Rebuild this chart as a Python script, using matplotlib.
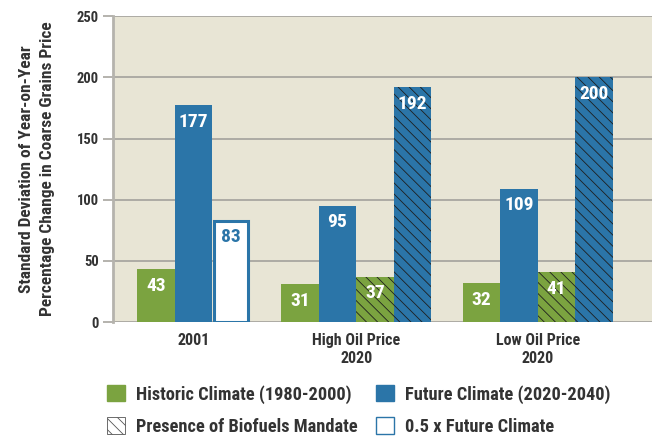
import matplotlib
matplotlib.use('Agg')
import matplotlib.pyplot as plt
from matplotlib import font_manager
from matplotlib.patches import Patch

# data
groups = ['2001', 'High Oil Price\n2020', 'Low Oil Price\n2020']
series_names = ['Historic Climate (1980-2000)', 'Future Climate (2020-2040)',
                'Presence of Biofuels Mandate', '0.5 x Future Climate']
# each bar: group index, kind (picks colour/hatch), value
bar_groups = [0, 0, 0, 1, 1, 1, 1, 2, 2, 2, 2]
bar_kinds = ['hist', 'future', 'half', 'hist', 'future', 'hist_bio', 'future_bio',
             'hist', 'future', 'hist_bio', 'future_bio']
bar_values = [43, 177, 83, 31, 95, 37, 192, 32, 109, 41, 200]
yticks = [0, 50, 100, 150, 200, 250]

GREEN = '#7ba340'
BLUE = '#2b75a8'
BG = '#e8e5d5'
GRID = '#a8a6a0'
TXT = '#333333'
HATCH = '#1e1e1e'

# pick a condensed face if one is around
names = {f.name for f in font_manager.fontManager.ttflist}
cands = ['Roboto Condensed', 'Barlow Condensed', 'Archivo Narrow', 'PT Sans Narrow',
         'Liberation Sans Narrow', 'Open Sans Condensed']
chosen = [c for c in cands if c in names][:1]
plt.rcParams['font.family'] = chosen + ['DejaVu Sans']
plt.rcParams['font.weight'] = 'bold'
plt.rcParams['hatch.linewidth'] = 0.6

fig = plt.figure(figsize=(6.54, 4.37), dpi=100)
ax = fig.add_axes([0.1728, 0.263, 0.824, 0.700])
ax.set_facecolor(BG)

# bar positions: contiguous within a group, gap between groups
gap = 0.83
xs = []
x = 0.0
prev = bar_groups[0]
for g in bar_groups:
    if g != prev:
        x += gap
        prev = g
    xs.append(x)
    x += 1

# label under the middle bar of the first group, under group centre otherwise
group_centers = []
for gi in range(len(groups)):
    pos = [xs[i] for i in range(len(xs)) if bar_groups[i] == gi]
    group_centers.append((min(pos) + max(pos)) / 2 if gi else pos[1])

for xi, kind, v in zip(xs, bar_kinds, bar_values):
    if kind == 'half':
        ax.bar(xi, v, width=0.9, color='white', edgecolor=BLUE, linewidth=2.2, zorder=3)
        col = BLUE
    else:
        fc = GREEN if kind.startswith('hist') else BLUE
        if kind.endswith('bio'):
            ax.bar(xi, v, width=1.0, facecolor=fc, edgecolor=HATCH, linewidth=0,
                   hatch='\\\\\\', zorder=3)
        else:
            ax.bar(xi, v, width=1.0, facecolor=fc, edgecolor=fc, linewidth=0, zorder=3)
        col = 'white'
    ax.annotate(str(v), (xi, v), xytext=(0, -12), textcoords='offset points',
                ha='center', va='center', color=col, fontsize=14, fontweight='bold', zorder=4)

ax.set_xlim(-1.14, 13.2)
ax.set_ylim(0, 250)
ax.set_yticks(yticks)
ax.set_xticks(group_centers)
ax.set_xticklabels(groups, fontsize=11.5, color=TXT)
ax.tick_params(axis='x', length=0, pad=8)
ax.tick_params(axis='y', length=7, width=1.2, color=GRID, labelsize=10.5, labelcolor=TXT, pad=3)
for t in yticks:
    ax.axhline(t, color=GRID, linewidth=1.3, zorder=1)
for s in ['right', 'bottom', 'top']:
    ax.spines[s].set_visible(False)
ax.spines['left'].set_color('#b5b3ad')
ax.spines['left'].set_linewidth(2)
ax.set_ylabel('Standard Deviation of Year-on-Year\nPercentage Change in Coarse Grains Price',
              fontsize=12.5, fontweight='bold', color=TXT, labelpad=16, linespacing=1.45)

handles = [Patch(facecolor=GREEN, edgecolor=GREEN),
           Patch(facecolor=BLUE, edgecolor=BLUE),
           Patch(facecolor='white', edgecolor='#555555', hatch='\\\\\\', linewidth=0.6),
           Patch(facecolor='white', edgecolor=BLUE, linewidth=1)]
order = [0, 2, 1, 3]
fig.legend([handles[i] for i in order], [series_names[i] for i in order], ncol=2,
           loc='lower left', bbox_to_anchor=(0.138, -0.035), frameon=False,
           prop={'size': 13.2, 'weight': 'bold'}, handlelength=1.0, handleheight=1.0,
           columnspacing=1.0, handletextpad=0.6, labelspacing=0.75, labelcolor=TXT)

fig.savefig('out.png', dpi=100)
